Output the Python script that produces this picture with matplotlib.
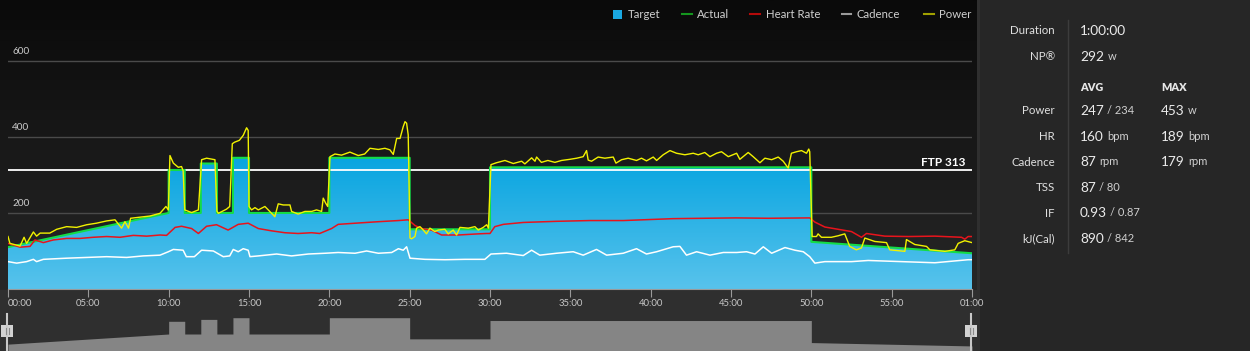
import numpy as np
import matplotlib as mpl
import matplotlib.pyplot as plt
from matplotlib.colors import LinearSegmentedColormap
from matplotlib.patches import Polygon, Rectangle
from matplotlib.lines import Line2D

plt.rcParams['font.family'] = ['Lato', 'DejaVu Sans']

#----------------------------------
#Datos (minutos, vatios)
target_t = [0, 10, 10, 11, 11, 12, 12, 13, 13, 14, 14, 15, 15, 20, 20, 25, 25, 30, 30, 50, 50, 60]
target_w = [110, 200, 313, 313, 200, 200, 330, 330, 200, 200, 345, 345, 200, 200, 345, 345, 157, 157, 320, 320, 124, 94]

power_t = [0, 0.12, 0.75, 1.0, 1.16, 1.58, 1.78, 2.0, 2.6, 3.03, 3.65, 4.27, 4.9, 5.5, 6.14, 6.66, 7.07, 7.28, 7.5, 7.63,
           8.21, 8.84, 9.46, 9.83, 9.98, 10.08, 10.29, 10.6, 10.8, 10.9, 11.0, 11.43, 11.85, 12.05, 12.36, 12.88, 13.0,
           13.09, 13.6, 13.8, 13.96, 14.1, 14.4, 14.64, 14.85, 14.95, 15.0, 15.16, 15.37, 15.58, 15.99, 16.2, 16.61,
           16.82, 17.13, 17.55, 17.65, 18.06, 18.48, 18.9, 19.2, 19.52, 19.62, 19.77, 19.9, 20.04, 20.35, 20.76, 21.28,
           21.8, 22.2, 22.53, 23.05, 23.46, 23.77, 23.98, 24.19, 24.4, 24.6, 24.71, 24.81, 24.91, 25.02, 25.12, 25.33,
           25.43, 25.64, 25.85, 26.05, 26.26, 26.57, 26.78, 27.19, 27.4, 27.71, 27.92, 28.13, 28.65, 29.06, 29.27, 29.58,
           29.79, 29.9, 30.06, 30.4, 30.93, 31.45, 31.97, 32.17, 32.59, 32.8, 32.9, 33.2, 33.6, 34.04, 34.45, 34.97, 35.4,
           35.8, 36.01, 36.11, 36.32, 36.73, 37.15, 37.67, 37.84, 38.19, 38.6, 39.12, 39.43, 39.74, 40.16, 40.37, 40.78,
           41.2, 41.61, 42.13, 42.65, 42.96, 43.37, 43.69, 44.1, 44.41, 44.83, 45.35, 45.55, 46.07, 46.38, 46.8, 47.11,
           47.53, 47.94, 48.25, 48.56, 48.76, 49.08, 49.39, 49.7, 49.84, 49.9, 50.05, 50.32, 50.42, 50.63, 51.25, 51.67,
           52.08, 52.39, 52.8, 53.12, 53.33, 53.95, 54.68, 54.88, 55.82, 55.92, 56.44, 57.17, 57.38, 58.31, 58.93, 59.14,
           59.55, 60]
power_w = [138, 120, 113, 136, 120, 150, 139, 147, 147, 157, 164, 162, 169, 173, 179, 182, 160, 177, 160, 186,
           189, 192, 199, 217, 208, 351, 331, 320, 322, 311, 208, 201, 208, 340, 344, 340, 205,
           199, 210, 217, 382, 386, 391, 404, 424, 417, 217, 208, 214, 208, 217, 208, 190,
           224, 221, 221, 204, 197, 204, 204, 208, 204, 239, 226, 217, 348, 355, 352, 360,
           351, 355, 370, 367, 370, 366, 354, 396, 396, 427, 440, 436, 405, 134, 132, 138,
           160, 164, 155, 145, 160, 151, 155, 157, 145, 155, 142, 162, 160, 164, 155, 162,
           169, 160, 327, 332, 338, 330, 336, 329, 345, 336, 347, 333, 338, 333, 338, 341, 344,
           348, 364, 339, 336, 347, 344, 347, 331, 340, 344, 338, 344, 337, 347, 338, 353,
           364, 357, 353, 357, 353, 359, 348, 357, 361, 348, 357, 341, 359, 348, 332, 344,
           340, 347, 336, 318, 357, 361, 364, 357, 368, 361, 138, 138, 145, 136, 136, 140,
           145, 112, 103, 108, 134, 125, 122, 103, 99, 130, 117, 112, 103, 99, 103, 120,
           127, 122]

hr_t = [0, 0.75, 1.37, 1.68, 2.2, 2.82, 3.65, 4.48, 5.3, 6.14, 6.97, 7.8, 8.63, 9.46, 9.87, 10.4, 10.8, 11.43, 11.85,
        12.36, 12.98, 13.7, 14.33, 14.95, 15.58, 16.4, 17.23, 18.06, 18.9, 19.4, 20.14, 20.55, 21.6, 23.05, 24.3, 24.91,
        25.33, 25.74, 26.36, 26.99, 28.02, 29.27, 29.79, 30.0, 30.3, 30.83, 32.07, 34.14, 36.22, 38.29, 41.4, 45.3,
        47.32, 49.9, 50.22, 50.84, 51.67, 52.5, 53.12, 53.43, 54.57, 56.03, 57.69, 59.35, 59.55, 59.76, 60]
hr_v = [120, 110, 112, 129, 122, 129, 133, 133, 136, 138, 136, 141, 139, 142, 141, 162, 165, 159, 146,
        165, 169, 155, 170, 173, 159, 153, 148, 146, 148, 146, 159, 170, 173, 177, 180, 182,
        167, 159, 155, 142, 142, 145, 146, 146, 164, 170, 175, 178, 180, 180, 185, 187,
        186, 187, 176, 163, 157, 151, 136, 146, 139, 138, 139, 136, 131, 138, 138]

cad_t = [0, 0.54, 1.16, 1.58, 1.78, 2.2, 3.65, 4.9, 6.14, 7.38, 8.42, 9.46, 9.98, 10.29, 10.9, 11.1, 11.6, 12.05,
         12.78, 13.4, 13.8, 14.02, 14.33, 14.64, 14.95, 15.06, 15.58, 16.72, 17.65, 18.69, 19.73, 20.55, 21.6, 22.32,
         23.05, 23.88, 24.3, 24.6, 24.81, 25.02, 25.95, 27.19, 28.44, 29.68, 30.06, 31.03, 32.07, 32.59, 33.1, 34.14,
         35.18, 35.8, 36.63, 37.26, 38.29, 39.12, 39.74, 40.37, 41.4, 41.82, 42.23, 42.86, 43.69, 44.52, 45.35, 45.97,
         46.49, 47.01, 47.53, 48.36, 48.98, 49.5, 49.9, 50.22, 50.84, 52.5, 53.54, 55.61, 57.69, 59.76, 60]
cad_v = [72, 68, 72, 78, 72, 78, 81, 83, 85, 83, 87, 89, 98, 104, 102, 85, 85, 102,
         100, 85, 87, 104, 98, 106, 102, 85, 87, 92, 87, 92, 94, 96, 94, 100,
         94, 96, 106, 102, 111, 81, 78, 77, 78, 78, 92, 94, 88, 102, 89, 94,
         98, 89, 104, 89, 94, 106, 92, 98, 111, 112, 89, 98, 89, 96, 96, 98,
         92, 111, 94, 109, 102, 98, 85, 68, 72, 72, 75, 72, 69, 77, 77]

ftp = 313
ticks = [0, 5, 10, 15, 20, 25, 30, 35, 40, 45, 50, 55, 60]
tick_labels = ['00:00', '05:00', '10:00', '15:00', '20:00', '25:00', '30:00', '35:00', '40:00', '45:00',
               '50:00', '55:00', '01:00']

stats_labels = ['Duration', 'NP®', 'Power', 'HR', 'Cadence', 'TSS', 'IF', 'kJ(Cal)']
stats_avg = [('1:00:00', ''), ('292', 'w'), ('247', '/ 234'), ('160', 'bpm'), ('87', 'rpm'),
             ('87', '/ 80'), ('0.93', '/ 0.87'), ('890', '/ 842')]
stats_max = [None, None, ('453', 'w'), ('189', 'bpm'), ('179', 'rpm'), None, None, None]

#----------------------------------
#Figura
W, H = 1250., 351.
fig = plt.figure(figsize=(12.5, 3.51), dpi=100, facecolor='#2f2f2f')

def fx(x):
    return x / W

def fy(y):
    return 1 - y / H

#fondo degradado de la grafica
bg = fig.add_axes([0, fy(290), fx(976), 290 / H])
grad = LinearSegmentedColormap.from_list('bg', ['#0a0a0a', '#272727'])
bg.imshow(np.linspace(0, 1, 256).reshape(-1, 1), aspect='auto', cmap=grad, extent=[0, 1, 0, 1])
bg.set_axis_off()

#panel derecho
fig.add_artist(Rectangle((fx(980), 0), fx(270), 1, transform=fig.transFigure, facecolor='#262626',
                         edgecolor='none', zorder=0))

#grafica principal
ax = fig.add_axes([fx(8), fy(289), fx(964), 289 / H])
ax.set_facecolor('none')
ax.set_xlim(0, 60)
ax.set_ylim(0, 760)

for v in [200, 400, 600]:
    ax.axhline(v, color='#4a4a4a', lw=1, zorder=1)
    ax.text(0.27, v + 24, str(v), color='#cccccc', fontsize=7.2, va='center', ha='left')

#relleno objetivo con degradado
blue = LinearSegmentedColormap.from_list('blue', ['#58c3ec', '#06a4e0'])
im = ax.imshow(np.linspace(0, 1, 256).reshape(-1, 1), origin='lower', aspect='auto', cmap=blue,
               extent=[0, 60, 0, 350], zorder=2)
verts = [(target_t[0], 0)] + list(zip(target_t, target_w)) + [(target_t[-1], 0)]
poly = Polygon(verts, closed=True, facecolor='none', edgecolor='none', transform=ax.transData)
ax.add_patch(poly)
im.set_clip_path(poly)
ax.set_ylim(0, 760)

ax.axhline(ftp, color='white', lw=1.3, zorder=3)
ax.text(59.6, ftp + 5, 'FTP ' + str(ftp), color='white', fontsize=8.5, fontweight='bold',
        ha='right', va='bottom', zorder=6)

ax.plot(target_t, target_w, color='#14dc46', lw=1.5, zorder=4)
ax.plot(cad_t, cad_v, color='white', lw=1.1, zorder=4)
ax.plot(hr_t, hr_v, color='#e8141c', lw=1.1, zorder=4)
ax.plot(power_t, power_w, color='#f2f200', lw=1.0, zorder=5)

for s in ['top', 'left', 'right']:
    ax.spines[s].set_visible(False)
ax.spines['bottom'].set_color('#9a9a9a')
ax.set_yticks([])
ax.set_xticks(ticks)
ax.set_xticklabels(tick_labels)
ax.tick_params(axis='x', colors='#9a9a9a', labelcolor='#c8c8c8', labelsize=6.8, length=5.5, pad=2)
ax.get_xticklabels()[0].set_horizontalalignment('left')

#vista general abajo
ov = fig.add_axes([fx(8), 0, fx(964), 36 / H])
ov.fill_between(target_t, 0, target_w, color='#858585', lw=0)
ov.set_xlim(0, 60)
ov.set_ylim(49, 369)
ov.set_axis_off()

for xh in [7, 971]:
    fig.add_artist(Line2D([fx(xh), fx(xh)], [fy(314), 0], color='#c8c8c8', lw=1.5))
    fig.add_artist(Rectangle((fx(xh - 6), fy(337)), fx(12), 12 / H, facecolor='#d2d2d2',
                             edgecolor='none'))
    for d in [-1.5, 1.5]:
        fig.add_artist(Line2D([fx(xh + d), fx(xh + d)], [fy(334), fy(328)], color='#8a8a8a', lw=0.8))

#leyenda
fig.add_artist(Rectangle((fx(613), fy(18.7)), fx(9), 9 / H, facecolor='#1aa8e2', edgecolor='none'))
fig.text(fx(628), fy(14.3), 'Target', color='#cfcfcf', fontsize=8.2, va='center')
leg = [(682, 697, '#14961e', 'Actual'), (750, 765.5, '#b40a0a', 'Heart Rate'),
       (841.5, 856.5, '#9a9a9a', 'Cadence'), (924, 939, '#a0a000', 'Power')]
for x0, xt, c, lab in leg:
    fig.add_artist(Line2D([fx(x0), fx(x0 + 9.5)], [fy(14.3), fy(14.3)], color=c, lw=1.5))
    fig.text(fx(xt), fy(14.3), lab, color='#cfcfcf', fontsize=8.2, va='center')

#tabla de datos
fig.add_artist(Line2D([fx(1068.3), fx(1068.3)], [fy(20), fy(253)], color='#3c3c3c', lw=1))
rows_y = [31, 56.7, 111, 136.7, 162.3, 187.7, 213.3, 239]
fig.text(fx(1080), fy(87.7), 'AVG', color='#e6e6e6', fontsize=7.8, fontweight='heavy', va='center')
fig.text(fx(1161), fy(87.7), 'MAX', color='#e6e6e6', fontsize=7.8, fontweight='heavy', va='center')

def valor(x, y, main, suf):
    t = fig.text(fx(x), fy(y), main, color='#ebebeb', fontsize=9.8, va='center')
    if suf:
        pan.annotate(suf, xy=(1, 0), xycoords=t, xytext=(2.5, 0.8), textcoords='offset points',
                     color='#d0d0d0', fontsize=8, va='bottom', ha='left')

pan = fig.add_axes([0, 0, 1, 1])
pan.set_axis_off()
for i in range(len(stats_labels)):
    fig.text(fx(1055), fy(rows_y[i]), stats_labels[i], color='#e0e0e0', fontsize=8.3,
             ha='right', va='center')
    valor(1080, rows_y[i], stats_avg[i][0], stats_avg[i][1])
    if stats_max[i] is not None:
        valor(1161, rows_y[i], stats_max[i][0], stats_max[i][1])

fig.savefig('out.png', dpi=100, facecolor=fig.get_facecolor())
